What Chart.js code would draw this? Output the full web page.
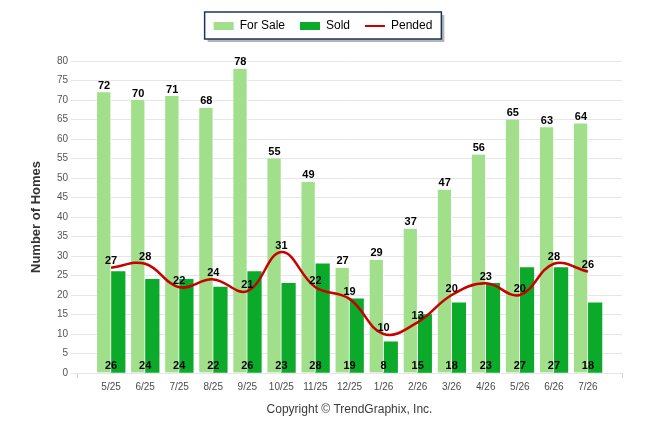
<!DOCTYPE html>
<html><head><meta charset="utf-8">
<script src="https://cdn.jsdelivr.net/npm/chart.js@4/dist/chart.umd.min.js"></script>
<style>html,body{margin:0;padding:0;background:#fff;}#wrap{width:646px;height:434px;}</style>
</head><body><div id="wrap"><canvas id="c" width="646" height="434"></canvas></div>
<script>
const categories = ['5/25','6/25','7/25','8/25','9/25','10/25','11/25','12/25','1/26','2/26','3/26','4/26','5/26','6/26','7/26'];
const forSale = [72,70,71,68,78,55,49,27,29,37,47,56,65,63,64];
const sold = [26,24,24,22,26,23,28,19,8,15,18,23,27,27,18];
const pended = [27,28,22,24,21,31,22,19,10,13,20,23,20,28,26];
const yMin = 0, yMax = 80, yStep = 5;
const yTitle = 'Number of Homes';
const copyright = 'Copyright \u00A9 TrendGraphix, Inc.';

const pad = a => [null, ...a, null];
const labels = ['', ...categories, ''];
const FONT = '"Liberation Sans", Arial, sans-serif';
const C_SALE = '#a2df8b', C_SOLD = '#0caa2a', C_PEND = '#c80000';

const bgPlugin = {
  id: 'bgBox',
  beforeDraw(chart) {
    const ctx = chart.ctx;
    ctx.save();
    ctx.fillStyle = '#fff';
    ctx.fillRect(0, 0, chart.width, chart.height);
    const hb = chart.legend && chart.legend.legendHitBoxes;
    if (hb && hb.length) {
      const l = hb[0].left - 9;
      const last = hb[hb.length - 1];
      const r = last.left + last.width + 9;
      const t = hb[0].top - 8;
      const b = hb[0].top + hb[0].height + 7;
      ctx.fillStyle = '#b5b5b5';
      ctx.fillRect(l + 3, t + 3, r - l, b - t);
      ctx.fillStyle = '#fff';
      ctx.fillRect(l, t, r - l, b - t);
      ctx.strokeStyle = '#1b3560';
      ctx.lineWidth = 1.5;
      ctx.strokeRect(l, t, r - l, b - t);
    }
    ctx.restore();
  }
};

const labelPlugin = {
  id: 'valLabels',
  afterDatasetsDraw(chart) {
    const ctx = chart.ctx;
    const xs = chart.scales.x;
    ctx.save();
    ctx.font = 'bold 11px ' + FONT;
    ctx.fillStyle = '#000';
    ctx.textAlign = 'center';
    ctx.textBaseline = 'alphabetic';
    const m0 = chart.getDatasetMeta(0);
    m0.data.forEach((el, i) => {
      const v = chart.data.datasets[0].data[i];
      if (v == null) return;
      ctx.fillText(String(v), el.x, el.y - 3.5);
    });
    chart.data.datasets[1].data.forEach((v, i) => {
      if (v == null) return;
      ctx.fillText(String(v), xs.getPixelForValue(i), chart.chartArea.bottom - 4.5);
    });
    const m2 = chart.getDatasetMeta(2);
    m2.data.forEach((el, i) => {
      const v = chart.data.datasets[2].data[i];
      if (v == null) return;
      ctx.fillText(String(v), el.x, el.y - 3.5);
    });
    ctx.restore();
  },
  afterDraw(chart) {
    const ctx = chart.ctx;
    const a = chart.chartArea;
    ctx.save();
    ctx.font = '12px ' + FONT;
    ctx.fillStyle = '#3a3a3a';
    ctx.textAlign = 'center';
    ctx.textBaseline = 'alphabetic';
    ctx.fillText(copyright, (a.left + a.right) / 2, a.bottom + 40);
    ctx.restore();
  }
};

const legendFit = {
  id: 'legendFit',
  beforeInit(chart) {
    const lg = chart.legend;
    if (!lg) return;
    const orig = lg.fit;
    lg.fit = function () { orig.call(this); this.height = 56; };
  }
};

new Chart(document.getElementById('c'), {
  data: {
    labels: labels,
    datasets: [
      { type: 'bar', label: 'For Sale', data: pad(forSale), backgroundColor: C_SALE,
        borderColor: '#ffffff', borderWidth: {right: 1, left: 0, top: 0, bottom: 0}, borderSkipped: false,
        barThickness: 14, order: 2 },
      { type: 'bar', label: 'Sold', data: pad(sold), backgroundColor: C_SOLD, borderWidth: 0,
        barThickness: 14, order: 2 },
      { type: 'line', label: 'Pended', data: pad(pended), borderColor: C_PEND, backgroundColor: C_PEND,
        borderWidth: 2.5, pointRadius: 0, pointHoverRadius: 0, tension: 0.4, fill: false, order: 0 }
    ]
  },
  options: {
    responsive: false,
    animation: false,
    devicePixelRatio: 1,
    layout: { padding: { top: 5, left: 0, right: 0, bottom: 0 } },
    plugins: {
      tooltip: { enabled: false },
      title: { display: false },
      legend: {
        position: 'top',
        labels: {
          font: { size: 12, family: FONT },
          color: '#000',
          padding: 15,
          boxHeight: 8,
          usePointStyle: true,
          pointStyleWidth: 20,
          generateLabels(chart) {
            return chart.data.datasets.map((ds, i) => ({
              text: ds.label,
              fillStyle: ds.type === 'line' ? ds.borderColor : ds.backgroundColor,
              strokeStyle: ds.type === 'line' ? ds.borderColor : ds.backgroundColor,
              lineWidth: ds.type === 'line' ? 2 : 0,
              pointStyle: ds.type === 'line' ? 'line' : 'rect',
              fontColor: '#000',
              hidden: false,
              datasetIndex: i
            }));
          }
        }
      }
    },
    scales: {
      x: {
        type: 'category',
        offset: false,
        grid: {
          display: true,
          offset: false,
          drawOnChartArea: false,
          drawTicks: true,
          tickLength: 5,
          color: (c) => (c.index === 0 || c.index === labels.length - 1) ? '#d6d6d6' : 'rgba(0,0,0,0)'
        },
        border: { display: false },
        ticks: {
          autoSkip: false, maxRotation: 0, minRotation: 0, padding: 3,
          color: '#4a4a4a', font: { size: 10, family: FONT }
        },
        afterFit(s) { s.height = 61; }
      },
      y: {
        min: yMin, max: yMax,
        grid: { color: '#e6e6e6', tickLength: 6, drawTicks: true },
        border: { display: false },
        ticks: { stepSize: yStep, color: '#555', padding: 3, font: { size: 10, family: FONT } },
        title: { display: true, text: yTitle, color: '#333', font: { size: 13, weight: 'bold', family: FONT }, padding: { top: 29, bottom: 0 } },
        afterFit(s) { s.width = 77; }
      },
      y2: {
        position: 'right',
        display: true,
        grid: { display: false },
        border: { display: false },
        ticks: { display: false },
        afterFit(s) { s.width = 24; }
      }
    }
  },
  plugins: [legendFit, bgPlugin, labelPlugin]
});
</script></body></html>
